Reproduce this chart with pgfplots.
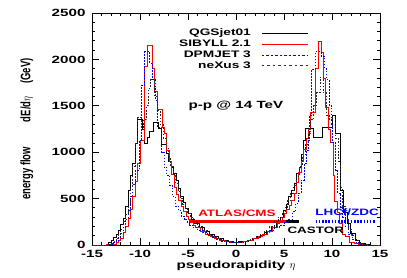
\documentclass[border=0pt]{standalone}
\usepackage{fontspec}
\setmainfont{Liberation Sans}[FakeStretch=1.45]
\newfontfamily\ylabfont{Liberation Sans}
\usepackage{pgfplots}
\pgfplotsset{compat=1.18}
\definecolor{atlasred}{RGB}{255,0,0}
\definecolor{lhcfblue}{RGB}{0,0,255}
\newcommand\tickfont{\bfseries\fontsize{10.5}{12}\selectfont}
\newcommand\annfont{\bfseries\fontsize{9.3}{11}\selectfont}
\begin{document}
\begin{tikzpicture}
\useasboundingbox (-92bp,-33bp) rectangle (315bp,245bp);
\begin{axis}[
  at={(0,0)}, anchor=south west,
  scale only axis, width=288bp, height=232bp,
  xmin=-15, xmax=15, ymin=0, ymax=2500,
  xtick={-15,-10,...,15}, xticklabels={-15,-10,-5,0,5,10,15},
  ytick={0,500,...,2500}, yticklabels={0,500,1000,1500,2000,2500},
  minor x tick num=4, minor y tick num=4,
  xtick pos=both, ytick pos=both, ticklabel pos=left,
  tick align=inside,
  major tick length=7bp, minor tick length=3.5bp,
  every tick/.style={black, line width=0.8pt},
  axis line style={line width=0.9pt},
  tick label style={font=\tickfont},
  yticklabel style={xshift=-3bp},
  xticklabel style={yshift=-2bp},
  xlabel={pseudorapidity $\eta$},
  xlabel style={font=\tickfont, yshift=4bp},
  ylabel={energy flow\hspace{25bp}dE/d$\eta$\hspace{13bp}(GeV)},
  ylabel style={font=\ylabfont\bfseries\fontsize{9.5}{11}\selectfont, at={(axis description cs:-0.226,0.5)}, anchor=center, yscale=1.45},
  clip=false,
  legend style={draw=none, fill=none, legend cell align=right, legend plot pos=right,
    at={(axis description cs:0.762,0.945)}, anchor=north east,
    nodes={inner sep=0.5bp, text height=7.5bp, text depth=2.3bp},
    font=\bfseries\fontsize{9.5}{10.5}\selectfont},
  legend image code/.code={\path (0bp,0bp); \draw[#1] (10bp,0bp) -- (56bp,0bp);},
]
% QGSjet01
\addplot[const plot, black, line width=0.7pt, forget plot] coordinates {
(-15,0) (-13.5,10) (-13.25,25) (-13,50) (-12.75,80) (-12.5,110) (-12.25,160) (-12,220)
(-11.75,290) (-11.5,420) (-11.25,590) (-11,750) (-10.75,880) (-10.5,1100) (-10.25,1350)
(-9.75,1250) (-9.5,1100) (-9.25,1160) (-9.05,1230) (-8.6,1320) (-8.1,1260) (-7.75,1080)
(-7.3,990) (-7.0,900) (-6.75,840) (-6.5,770) (-6.25,700) (-6.0,615) (-5.75,520) (-5.5,460)
(-5.25,400) (-5.0,345) (-4.65,275) (-4.3,230) (-3.8,190) (-3.3,150) (-2.8,115) (-2.3,90)
(-1.8,68) (-1.3,50) (-0.8,38) (-0.3,32) (0.2,34) (0.7,42) (1.2,55) (1.7,72) (2.2,95)
(2.7,120) (3.2,150) (3.7,190) (4.2,240) (4.6,300) (4.9,370) (5.2,440) (5.5,520) (5.75,590)
(6.05,660) (6.3,770) (6.55,840) (6.8,980) (7.0,1130) (7.2,1260) (8.1,1160) (8.95,1270)
(10.05,1400) (10.4,1200) (10.85,590) (11.2,350) (11.55,235) (11.9,130) (12.4,55) (12.9,20)
(13.5,5) (14,0) (15,0)};
% CASTOR acceptance
\addplot[const plot, black, line width=3pt, forget plot] coordinates {(5.2,250) (6.6,250)};
% SIBYLL 2.1
\addplot[const plot, atlasred, line width=0.9pt, forget plot] coordinates {
(-15,0) (-13.5,4) (-13,10) (-12.5,25) (-12.25,45) (-12,70) (-11.75,130) (-11.5,200)
(-11.25,290) (-11,380) (-10.75,520) (-10.5,680) (-10.25,880) (-10,1130) (-9.5,1920)
(-9.2,2145) (-8.7,1900) (-8.45,1650) (-8.2,1460) (-7.7,1270) (-7.45,1200) (-7.2,1020)
(-6.95,895) (-6.7,755) (-6.45,615) (-6.2,545) (-5.95,485) (-5.7,420) (-5.45,360) (-5.2,310)
(-4.95,270) (-4.7,240) (-4.45,215) (-4.2,190) (-3.7,150) (-3.2,118) (-2.7,92) (-2.2,70)
(-1.7,52) (-1.2,38) (-0.7,28) (-0.2,24) (0.3,28) (0.8,38) (1.3,52) (1.8,70) (2.3,92)
(2.8,118) (3.3,150) (3.8,190) (4.3,230) (4.55,260) (4.8,300) (5.05,340) (5.3,380) (5.55,430)
(5.8,480) (6.05,560) (6.3,670) (6.55,780) (6.8,900) (7.05,1030) (7.3,1150) (7.55,1250)
(7.8,1430) (8.25,1900) (8.55,2190) (8.95,2080) (9.15,1800) (9.35,1480) (9.65,1240)
(9.85,1100) (10.1,750) (10.3,470) (10.55,350) (10.8,235) (11.1,115) (11.4,95) (11.8,30)
(12.3,12) (12.8,4) (13.5,0) (15,0)};
% ATLAS/CMS acceptance
\addplot[const plot, atlasred, line width=3pt, forget plot] coordinates {(-4.9,250) (5.2,250)};
% DPMJET 3
\addplot[const plot, lhcfblue, line width=1pt, dash pattern=on 1.5pt off 1.5pt, forget plot] coordinates {
(-15,0) (-13.25,10) (-12.75,25) (-12.5,45) (-12.25,80) (-12,120) (-11.75,190) (-11.5,280)
(-11.25,370) (-11,520) (-10.75,650) (-10.5,800) (-10.1,1130) (-9.8,1720) (-9.5,2080)
(-9.0,1960) (-8.7,1780) (-8.4,1560) (-8.2,1270) (-7.75,1000) (-7.5,840) (-7.2,750)
(-6.9,640) (-6.6,520) (-6.3,420) (-6.0,370) (-5.7,310) (-5.4,270) (-5.1,240) (-4.8,215)
(-4.5,190) (-4.0,160) (-3.5,130) (-3.0,100) (-2.5,78) (-2.0,58) (-1.5,42) (-1.0,32)
(-0.5,26) (0,26) (0.5,32) (1.0,42) (1.5,58) (2.0,78) (2.5,100) (3.0,130) (3.5,160)
(4.0,190) (4.5,210) (5.0,240) (5.5,280) (5.9,360) (6.2,450) (6.5,560) (6.8,700) (7.1,880)
(7.3,1020) (7.5,1130) (7.7,1400) (7.9,1890) (8.25,2080) (8.9,2030) (9.25,1900) (9.45,1780)
(9.7,1500) (9.95,1300) (10.1,1100) (10.4,800) (10.6,560) (10.9,400) (11.1,300) (11.4,200)
(11.7,110) (12.1,60) (12.5,30) (13,10) (13.5,0) (15,0)};
% LHCf/ZDC acceptance
\addplot[const plot, lhcfblue, line width=3pt, dash pattern=on 1.6pt off 1.6pt, forget plot] coordinates {(8.3,250) (14.5,250)};
% neXus 3
\addplot[const plot, black!85, line width=0.8pt, dash pattern=on 1.6pt off 1.6pt, forget plot] coordinates {
(-15,0) (-13.25,10) (-13,20) (-12.75,40) (-12.5,70) (-12.25,110) (-12,170) (-11.75,250)
(-11.5,330) (-11.25,450) (-11,600) (-10.75,850) (-10.5,1100) (-10.25,1370) (-9.85,1250)
(-9.6,1350) (-9.3,1500) (-9.1,1690) (-8.9,1780) (-8.5,1600) (-8.2,1450) (-7.9,1300)
(-7.6,1150) (-7.3,1050) (-7.05,950) (-6.8,850) (-6.55,760) (-6.3,660) (-6.05,580)
(-5.8,500) (-5.55,440) (-5.3,390) (-5.05,340) (-4.8,300) (-4.4,250) (-4.0,200) (-3.5,155)
(-3.0,118) (-2.5,90) (-2.0,67) (-1.5,48) (-1.0,35) (-0.5,28) (0,28) (0.5,35) (1.0,48)
(1.5,67) (2.0,90) (2.5,118) (3.0,155) (3.5,200) (4.0,250) (4.4,300) (4.8,350) (5.1,410)
(5.4,480) (5.7,560) (6.0,640) (6.3,740) (6.6,850) (6.9,960) (7.2,1080) (7.5,1200)
(7.8,1350) (8.1,1500) (8.4,1640) (8.75,1810) (9.1,1640) (9.4,1400) (9.7,1350) (10.05,1380)
(10.4,1150) (10.7,900) (10.9,620) (11.1,420) (11.4,280) (11.7,170) (12.0,100) (12.4,50)
(12.8,20) (13.3,5) (13.8,0) (15,0)};
% legend
\addlegendimage{black, line width=0.7pt}
\addlegendentry{QGSjet01}
\addlegendimage{atlasred, line width=0.9pt}
\addlegendentry{SIBYLL 2.1}
\addlegendimage{lhcfblue, line width=0.9pt, dash pattern=on 2.5pt off 2pt}
\addlegendentry{DPMJET 3}
\addlegendimage{black!80, line width=0.8pt, dash pattern=on 2.5pt off 3pt}
\addlegendentry{neXus 3}
\node[text=atlasred, font=\annfont] at (axis cs:0.1,345) {ATLAS/CMS};
\node[text=black, font=\annfont, anchor=west] at (axis cs:5.0,160) {CASTOR};
\node[text=lhcfblue, font=\annfont, anchor=west] at (axis cs:7.9,355) {LHCf/ZDC};
\node[text=black, font=\tickfont, anchor=west] at (axis cs:-5.3,1500) {p-p @ 14 TeV};
\end{axis}
\end{tikzpicture}
\end{document}
